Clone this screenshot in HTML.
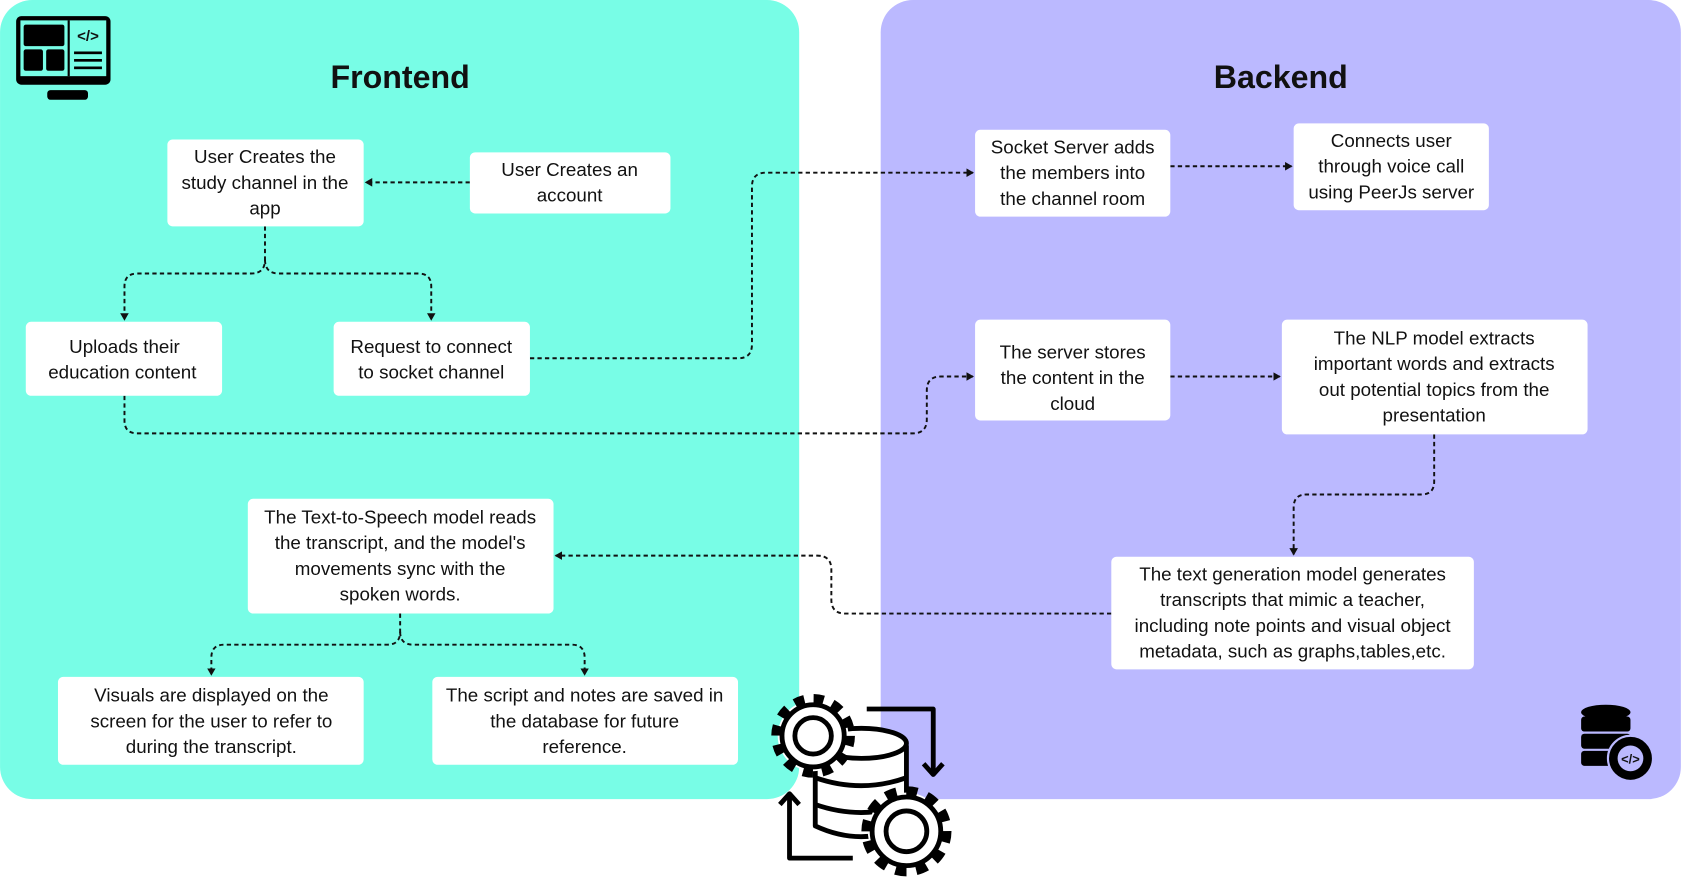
<!DOCTYPE html>
<html><head><meta charset="utf-8"><style>
html,body{margin:0;padding:0;background:#fff;}
svg{display:block;}
text{font-family:"Liberation Sans",sans-serif;fill:#111;}
.t{font-size:17.5px;text-anchor:middle;}
.h{font-size:30px;font-weight:bold;text-anchor:middle;}
.c{fill:none;stroke:#111;stroke-width:1.8;stroke-dasharray:4 3;}
.b{fill:#fff;}
</style></head><body>
<svg width="1682" height="880" viewBox="0 0 1568 820.4" xmlns="http://www.w3.org/2000/svg">
<defs><marker id="a" markerWidth="8" markerHeight="8" refX="6" refY="4" orient="auto" markerUnits="userSpaceOnUse"><path d="M0,0 L7,4 L0,8 Z" fill="#111"/></marker></defs>
<rect x="0" y="0" width="745" height="745" rx="30" fill="#78fde6"/>
<rect x="821" y="0" width="746" height="745" rx="30" fill="#bbb9ff"/>
<text class="h" x="373" y="82">Frontend</text>
<text class="h" x="1194" y="82">Backend</text>

<!-- monitor icon -->
<g>
<rect x="15" y="15" width="88" height="64" rx="5" fill="#000"/>
<rect x="19" y="19" width="80" height="52" fill="#78fde6"/>
<rect x="22" y="23" width="38" height="20" rx="2" fill="#000"/>
<rect x="22" y="46" width="18" height="20" rx="2" fill="#000"/>
<rect x="43" y="46" width="17" height="20" rx="2" fill="#000"/>
<rect x="63" y="19" width="2" height="52" fill="#000"/>
<text x="82" y="38" style="font-size:14px;font-weight:bold;text-anchor:middle">&lt;/&gt;</text>
<rect x="69" y="48" width="26" height="2.5" fill="#000"/><rect x="69" y="55" width="26" height="2.5" fill="#000"/><rect x="69" y="62" width="26" height="2.5" fill="#000"/>
<rect x="44" y="84" width="38" height="9" rx="3" fill="#000"/>
</g>

<!-- connectors -->
<path class="c" d="M438,170 L341,170" marker-end="url(#a)"/>
<path class="c" d="M247,211 L247,242 Q247,255 234,255 L128,255 Q116,255 116,267 L116,298" marker-end="url(#a)"/>
<path class="c" d="M247,242 Q247,255 260,255 L390,255 Q402,255 402,267 L402,298" marker-end="url(#a)"/>
<path class="c" d="M494,334 L688,334 Q701,334 701,321 L701,174 Q701,161 714,161 L907,161" marker-end="url(#a)"/>
<path class="c" d="M116,369 L116,392 Q116,404 128,404 L851,404 Q864,404 864,391 L864,364 Q864,351 877,351 L907,351" marker-end="url(#a)"/>
<path class="c" d="M1091,155 L1204,155" marker-end="url(#a)"/>
<path class="c" d="M1091,351 L1193,351" marker-end="url(#a)"/>
<path class="c" d="M1337,405 L1337,449 Q1337,461 1325,461 L1218,461 Q1206,461 1206,473 L1206,517" marker-end="url(#a)"/>
<path class="c" d="M1036,572 L788,572 Q775,572 775,559 L775,531 Q775,518 762,518 L518,518" marker-end="url(#a)"/>
<path class="c" d="M373,572 L373,589 Q373,601 361,601 L209,601 Q197,601 197,613 L197,629" marker-end="url(#a)"/>
<path class="c" d="M373,589 Q373,601 385,601 L533,601 Q545,601 545,613 L545,629" marker-end="url(#a)"/>

<!-- boxes -->
<rect class="b" x="156" y="130" width="183" height="81" rx="5"/>
<text class="t"><tspan x="247" y="152">User Creates the</tspan><tspan x="247" y="176">study channel in the</tspan><tspan x="247" y="200">app</tspan></text>
<rect class="b" x="438" y="142" width="187" height="57" rx="5"/>
<text class="t"><tspan x="531" y="164">User Creates an</tspan><tspan x="531" y="188">account</tspan></text>
<rect class="b" x="24" y="300" width="183" height="69" rx="5"/>
<text class="t"><tspan x="116" y="329">Uploads their</tspan><tspan x="114" y="353">education content</tspan></text>
<rect class="b" x="311" y="300" width="183" height="69" rx="5"/>
<text class="t"><tspan x="402" y="329">Request to connect</tspan><tspan x="402" y="353">to socket channel</tspan></text>
<rect class="b" x="909" y="121" width="182" height="81" rx="5"/>
<text class="t"><tspan x="1000" y="143">Socket Server adds</tspan><tspan x="1000" y="167">the members into</tspan><tspan x="1000" y="191">the channel room</tspan></text>
<rect class="b" x="1206" y="115" width="182" height="81" rx="5"/>
<text class="t"><tspan x="1297" y="137">Connects user</tspan><tspan x="1297" y="161">through voice call</tspan><tspan x="1297" y="185">using PeerJs server</tspan></text>
<rect class="b" x="909" y="298" width="182" height="94" rx="5"/>
<text class="t"><tspan x="1000" y="334">The server stores</tspan><tspan x="1000" y="358">the content in the</tspan><tspan x="1000" y="382">cloud</tspan></text>
<rect class="b" x="1195" y="298" width="285" height="107" rx="5"/>
<text class="t"><tspan x="1337" y="321">The NLP model extracts</tspan><tspan x="1337" y="345">important words and extracts</tspan><tspan x="1337" y="369">out potential topics from the</tspan><tspan x="1337" y="393">presentation</tspan></text>
<rect class="b" x="1036" y="519" width="338" height="105" rx="5"/>
<text class="t"><tspan x="1205" y="541">The text generation model generates</tspan><tspan x="1205" y="565">transcripts that mimic a teacher,</tspan><tspan x="1205" y="589">including note points and visual object</tspan><tspan x="1205" y="613">metadata, such as graphs,tables,etc.</tspan></text>
<rect class="b" x="231" y="465" width="285" height="107" rx="5"/>
<text class="t"><tspan x="373" y="488">The Text-to-Speech model reads</tspan><tspan x="373" y="512">the transcript, and the model's</tspan><tspan x="373" y="536">movements sync with the</tspan><tspan x="373" y="560">spoken words.</tspan></text>
<rect class="b" x="54" y="631" width="285" height="82" rx="5"/>
<text class="t"><tspan x="197" y="654">Visuals are displayed on the</tspan><tspan x="197" y="678">screen for the user to refer to</tspan><tspan x="197" y="702">during the transcript.</tspan></text>
<rect class="b" x="403" y="631" width="285" height="82" rx="5"/>
<text class="t"><tspan x="545" y="654">The script and notes are saved in</tspan><tspan x="545" y="678">the database for future</tspan><tspan x="545" y="702">reference.</tspan></text>

<!-- central gear/db icon -->
<g fill="none" stroke="#000" stroke-width="4.5" stroke-linejoin="round">
<path d="M808,661 L870,661 L870,720"/><path d="M861,712 L870,722 L879,712"/>
<path d="M795,800 L736,800 L736,742"/><path d="M727,750 L736,740 L745,750"/>
<path d="M760,695 L760,770 Q803,790 845,770 L845,695" fill="#fff"/>
<ellipse cx="803" cy="693" rx="42" ry="14" fill="#fff"/>
<path d="M760,725 Q803,740 845,725"/><path d="M760,750 Q803,765 845,750"/>
<circle cx="758" cy="686" r="33" fill="#fff" stroke-width="12" stroke-dasharray="9 8.3"/>
<circle cx="758" cy="686" r="29" fill="#fff"/>
<circle cx="758" cy="686" r="17"/>
<circle cx="845" cy="775" r="36" fill="#fff" stroke-width="12" stroke-dasharray="10 8.8"/>
<circle cx="845" cy="775" r="32" fill="#fff"/>
<circle cx="845" cy="775" r="19"/>
</g>

<!-- db icon -->
<g fill="#000">
<ellipse cx="1497" cy="664" rx="23" ry="7"/>
<rect x="1474" y="668" width="46" height="14" rx="3"/>
<rect x="1474" y="684" width="46" height="14" rx="3"/>
<rect x="1474" y="700" width="46" height="14" rx="3"/>
<circle cx="1520" cy="707" r="21" stroke="#bbb9ff" stroke-width="2"/>
<circle cx="1520" cy="707" r="12" fill="#bbb9ff"/>
</g>
<text x="1520" y="712" style="font-size:12px;font-weight:bold;text-anchor:middle">&lt;/&gt;</text>
</svg>
</body></html>
